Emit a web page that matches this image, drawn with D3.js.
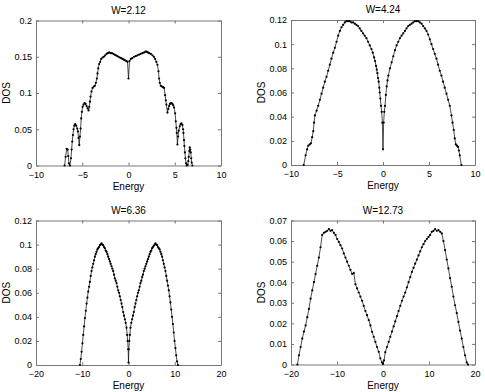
<!DOCTYPE html>
<html>
<head>
<meta charset="utf-8">
<script src="https://cdn.jsdelivr.net/npm/d3@7"></script>
<style>
  body { margin: 0; background: #fff; }
  svg { display: block; font-family: "Liberation Sans", Arial, sans-serif; }
</style>
</head>
<body>
<div id="chart"></div>
<script>
// W=2.12
var energy1 = [-6.91,-6.80,-6.69,-6.58,-6.51,-6.44,-6.33,-6.22,-6.15,-6.08,-6.01,-5.94,-5.86,-5.76,-5.65,-5.54,-5.47,-5.40,-5.32,-5.25,-5.18,-5.11,-5.04,-4.96,-4.86,-4.75,-4.64,-4.53,-4.42,-4.32,-4.24,-4.17,-4.10,-4.00,-3.88,-3.74,-3.63,-3.53,-3.42,-3.35,-3.27,-3.17,-3.06,-2.95,-2.81,-2.66,-2.52,-2.37,-2.23,-2.09,-1.94,-1.80,-1.65,-1.51,-1.37,-1.22,-1.08,-0.94,-0.79,-0.65,-0.50,-0.36,-0.22,-0.11,0,
  0.11,0.25,0.40,0.61,0.79,0.97,1.15,1.33,1.51,1.69,1.84,1.97,2.10,2.23,2.41,2.59,2.74,2.88,3.01,3.13,3.24,3.31,3.38,3.49,3.60,3.74,3.85,3.96,4.03,4.10,4.21,4.30,4.39,4.48,4.57,4.66,4.75,4.84,4.93,5.04,5.11,5.18,5.22,5.29,5.36,5.43,5.54,5.63,5.72,5.83,5.90,5.94,6.00,6.04,6.10,6.15,6.22,6.30,6.40,6.47,6.51,6.57,6.62,6.68,6.73,6.78,6.83,6.91];
var dos1 = [0,0.012,0.023,0.022,0.013,0.003,0,0.010,0.022,0.033,0.042,0.050,0.055,0.057,0.055,0.051,0.047,0.038,0.028,0.040,0.051,0.065,0.074,0.081,0.084,0.086,0.085,0.082,0.079,0.076,0.081,0.088,0.095,0.102,0.107,0.109,0.110,0.114,0.120,0.127,0.134,0.140,0.143,0.147,0.149,0.150,0.152,0.154,0.155,0.156,0.155,0.155,0.154,0.153,0.152,0.151,0.150,0.149,0.148,0.147,0.146,0.145,0.144,0.143,0.120,
  0.144,0.147,0.148,0.150,0.151,0.152,0.153,0.154,0.155,0.156,0.157,0.157,0.156,0.155,0.154,0.152,0.150,0.147,0.143,0.139,0.130,0.120,0.114,0.110,0.109,0.108,0.107,0.097,0.090,0.084,0.073,0.078,0.082,0.085,0.086,0.086,0.085,0.083,0.080,0.072,0.061,0.052,0.045,0.029,0.040,0.048,0.054,0.057,0.058,0.056,0.050,0.045,0.035,0.027,0.018,0.010,0.003,0,0.001,0.006,0.012,0.020,0.025,0.022,0.018,0.010,0.004,0];

// W=4.24
var energy2 = [-8.62,-8.41,-8.25,-8.12,-7.95,-7.83,-7.70,-7.58,-7.49,-7.40,-7.22,-7.04,-6.86,-6.68,-6.50,-6.32,-6.14,-5.96,-5.78,-5.60,-5.41,-5.23,-5.05,-4.87,-4.69,-4.51,-4.33,-4.15,-3.97,-3.79,-3.61,-3.43,-3.25,-3.07,-2.89,-2.71,-2.53,-2.35,-2.17,-1.99,-1.80,-1.62,-1.44,-1.26,-1.11,-0.97,-0.86,-0.76,-0.68,-0.61,-0.54,-0.47,-0.40,-0.36,-0.29,-0.22,-0.14,-0.07,0,
  0.07,0.14,0.22,0.31,0.40,0.49,0.58,0.76,0.94,1.12,1.30,1.48,1.66,1.84,2.02,2.20,2.38,2.56,2.74,2.92,3.10,3.29,3.47,3.65,3.83,4.00,4.19,4.37,4.55,4.73,4.91,5.09,5.27,5.45,5.63,5.81,5.99,6.17,6.35,6.53,6.71,6.90,7.08,7.26,7.44,7.56,7.69,7.80,7.91,8.04,8.16,8.25,8.34,8.52];
var dos2 = [0,0.008,0.013,0.016,0.017,0.018,0.023,0.028,0.035,0.041,0.045,0.049,0.054,0.059,0.064,0.069,0.073,0.078,0.083,0.088,0.093,0.097,0.102,0.107,0.111,0.114,0.116,0.118,0.119,0.119,0.119,0.118,0.118,0.117,0.116,0.115,0.113,0.111,0.109,0.107,0.105,0.102,0.099,0.096,0.093,0.089,0.086,0.082,0.079,0.076,0.072,0.069,0.064,0.060,0.055,0.049,0.044,0.035,0.013,
  0.035,0.044,0.049,0.058,0.065,0.070,0.074,0.080,0.085,0.090,0.095,0.099,0.102,0.105,0.107,0.109,0.111,0.113,0.115,0.116,0.117,0.118,0.119,0.119,0.119,0.118,0.117,0.115,0.113,0.111,0.108,0.104,0.100,0.096,0.092,0.088,0.083,0.078,0.074,0.069,0.064,0.059,0.054,0.049,0.041,0.035,0.029,0.022,0.017,0.016,0.015,0.012,0.008,0];

// W=6.36
var energy3 = [-10.50,-10.32,-10.14,-9.96,-9.78,-9.60,-9.42,-9.24,-9.06,-8.88,-8.71,-8.53,-8.35,-8.17,-7.99,-7.81,-7.63,-7.45,-7.27,-7.09,-6.91,-6.73,-6.55,-6.37,-6.19,-6.01,-5.83,-5.65,-5.47,-5.29,-5.11,-4.93,-4.75,-4.57,-4.39,-4.21,-4.03,-3.85,-3.67,-3.49,-3.31,-3.13,-2.95,-2.77,-2.59,-2.41,-2.23,-2.05,-1.87,-1.69,-1.51,-1.33,-1.15,-0.97,-0.79,-0.61,-0.43,-0.29,-0.18,-0.07,0,
  0.07,0.18,0.29,0.43,0.61,0.79,0.97,1.15,1.33,1.51,1.69,1.87,2.05,2.23,2.41,2.59,2.77,2.95,3.13,3.31,3.49,3.67,3.85,4.03,4.21,4.39,4.57,4.75,4.93,5.11,5.29,5.47,5.65,5.83,6.01,6.19,6.37,6.55,6.73,6.91,7.09,7.27,7.45,7.63,7.81,7.99,8.17,8.35,8.53,8.71,8.88,9.06,9.24,9.42,9.60,9.78,9.96,10.14,10.32,10.50,10.68];
var dos3 = [0,0.005,0.011,0.018,0.025,0.032,0.039,0.045,0.051,0.056,0.061,0.065,0.069,0.074,0.078,0.081,0.084,0.087,0.090,0.092,0.094,0.096,0.097,0.098,0.0995,0.100,0.101,0.100,0.0995,0.098,0.097,0.095,0.094,0.092,0.090,0.088,0.086,0.084,0.082,0.080,0.078,0.075,0.072,0.070,0.068,0.065,0.062,0.060,0.057,0.054,0.051,0.048,0.044,0.041,0.038,0.035,0.031,0.025,0.020,0.013,0.002,
  0.013,0.020,0.025,0.031,0.035,0.038,0.041,0.044,0.048,0.051,0.054,0.057,0.060,0.062,0.065,0.068,0.070,0.073,0.075,0.078,0.080,0.082,0.084,0.086,0.088,0.090,0.092,0.094,0.095,0.097,0.098,0.099,0.100,0.101,0.100,0.0995,0.098,0.097,0.096,0.094,0.092,0.090,0.087,0.084,0.081,0.078,0.074,0.070,0.066,0.062,0.057,0.052,0.046,0.040,0.034,0.027,0.020,0.014,0.008,0.003,0];

// W=12.73
var energy4 = [-18.60,-18.27,-17.91,-17.55,-17.19,-16.82,-16.46,-16.10,-15.74,-15.38,-15.02,-14.66,-14.30,-13.94,-13.58,-13.21,-12.85,-12.49,-12.13,-11.77,-11.41,-11.05,-10.69,-10.32,-9.96,-9.60,-9.24,-8.88,-8.52,-8.16,-7.80,-7.44,-7.08,-6.71,-6.35,-5.99,-5.63,-5.27,-4.91,-4.55,-4.19,-3.83,-3.47,-3.10,-2.74,-2.38,-2.02,-1.66,-1.30,-0.94,-0.58,-0.22,0,
  0.22,0.50,0.86,1.23,1.59,1.95,2.31,2.67,3.03,3.39,3.76,4.12,4.48,4.84,5.20,5.56,5.92,6.28,6.64,7.00,7.37,7.73,8.09,8.45,8.81,9.17,9.53,9.89,10.25,10.61,10.97,11.34,11.70,12.06,12.42,12.78,13.14,13.50,13.86,14.22,14.58,14.95,15.31,15.67,16.03,16.39,16.75,17.11,17.47,17.83,18.20,18.50];
var dos4 = [0,0.0045,0.0085,0.0126,0.016,0.019,0.023,0.027,0.032,0.036,0.040,0.044,0.048,0.052,0.057,0.063,0.064,0.0645,0.065,0.0658,0.065,0.0653,0.064,0.063,0.061,0.0596,0.058,0.0564,0.054,0.052,0.050,0.048,0.046,0.044,0.0445,0.039,0.037,0.035,0.033,0.031,0.0285,0.026,0.024,0.0216,0.019,0.0159,0.0135,0.011,0.0085,0.0062,0.003,0.001,0.0003,
  0.002,0.006,0.0085,0.011,0.0135,0.016,0.0185,0.021,0.0235,0.026,0.0285,0.031,0.033,0.035,0.0375,0.040,0.0425,0.045,0.047,0.049,0.051,0.053,0.055,0.057,0.0585,0.060,0.061,0.062,0.063,0.0645,0.065,0.0658,0.065,0.0653,0.0645,0.0637,0.060,0.0556,0.051,0.0467,0.042,0.0378,0.033,0.0288,0.025,0.0207,0.0165,0.0126,0.0085,0.0045,0.001,0];

var titles = ["W=2.12", "W=4.24", "W=6.36", "W=12.73"];
var xTicksTop = [-10, -5, 0, 5, 10];
var xTicksBottom = [-20, -10, 0, 10, 20];
var yTicks1 = [0, 0.05, 0.1, 0.15, 0.2];
var yTicks2 = [0, 0.02, 0.04, 0.06, 0.08, 0.1, 0.12];
var yTicks3 = [0, 0.02, 0.04, 0.06, 0.08, 0.1, 0.12];
var yTicks4 = [0, 0.01, 0.02, 0.03, 0.04, 0.05, 0.06, 0.07];

var W = 485, H = 392;
var svg = d3.select("#chart").append("svg")
  .attr("width", W)
  .attr("height", H);

var panels = [
  { e: energy1, d: dos1, title: titles[0], xt: xTicksTop, yt: yTicks1, x0: 36, x1: 221, y0: 20.5, y1: 165.5, dosX: 6 },
  { e: energy2, d: dos2, title: titles[1], xt: xTicksTop, yt: yTicks2, x0: 291, x1: 475, y0: 20, y1: 165, dosX: 261 },
  { e: energy3, d: dos3, title: titles[2], xt: xTicksBottom, yt: yTicks3, x0: 36, x1: 221, y0: 220.5, y1: 365, dosX: 6 },
  { e: energy4, d: dos4, title: titles[3], xt: xTicksBottom, yt: yTicks4, x0: 291, x1: 475, y0: 220.5, y1: 364.5, dosX: 261 }
];

function fmt(v) {
  return String(+v.toFixed(4)).replace("-", "\u2212");
}

panels.forEach(function(p) {
  var x = d3.scaleLinear()
    .domain(d3.extent(p.xt))
    .range([p.x0, p.x1]);
  var y = d3.scaleLinear()
    .domain(d3.extent(p.yt))
    .range([p.y1, p.y0]);

  var g = svg.append("g");

  // inward ticks on all four sides (matlab box)
  g.append("g")
    .attr("transform", "translate(0," + p.y1 + ")")
    .call(d3.axisBottom(x).tickValues(p.xt).tickSizeInner(-3).tickSizeOuter(0).tickPadding(6).tickFormat(fmt));
  g.append("g")
    .attr("transform", "translate(0," + p.y0 + ")")
    .call(d3.axisTop(x).tickValues(p.xt).tickSizeInner(-3).tickSizeOuter(0).tickFormat(""));
  g.append("g")
    .attr("transform", "translate(" + p.x0 + ",0)")
    .call(d3.axisLeft(y).tickValues(p.yt).tickSizeInner(-3).tickSizeOuter(0).tickPadding(4).tickFormat(fmt));
  g.append("g")
    .attr("transform", "translate(" + p.x1 + ",0)")
    .call(d3.axisRight(y).tickValues(p.yt).tickSizeInner(-3).tickSizeOuter(0).tickFormat(""));

  g.selectAll(".domain").attr("stroke", "#777");
  g.selectAll(".tick line").attr("stroke", "#777");
  g.selectAll(".tick text")
    .attr("fill", "#000")
    .style("font-size", "9px")
    .style("font-family", "Liberation Sans, Arial, sans-serif");

  var pts = p.e.map(function(v, i) { return [v, p.d[i]]; });

  g.append("path")
    .datum(pts)
    .attr("fill", "none")
    .attr("stroke", "#000")
    .attr("stroke-width", 0.7)
    .attr("d", d3.line()
      .x(function(d) { return x(d[0]); })
      .y(function(d) { return y(d[1]); }));

  g.selectAll("circle")
    .data(pts)
    .enter()
    .append("circle")
      .attr("cx", function(d) { return x(d[0]); })
      .attr("cy", function(d) { return y(d[1]); })
      .attr("r", 1.1)
      .attr("fill", "#000");

  g.append("text")
    .attr("x", (p.x0 + p.x1) / 2)
    .attr("y", p.y0 - 7)
    .attr("text-anchor", "middle")
    .style("font-size", "10px")
    .text(p.title);

  g.append("text")
    .attr("x", (p.x0 + p.x1) / 2)
    .attr("y", p.y1 + 24)
    .attr("text-anchor", "middle")
    .style("font-size", "10px")
    .text("Energy");

  g.append("text")
    .attr("transform", "translate(" + p.dosX + "," + ((p.y0 + p.y1) / 2) + ") rotate(-90)")
    .attr("dy", "0.35em")
    .attr("text-anchor", "middle")
    .style("font-size", "10px")
    .text("DOS");
});
</script>
</body>
</html>
